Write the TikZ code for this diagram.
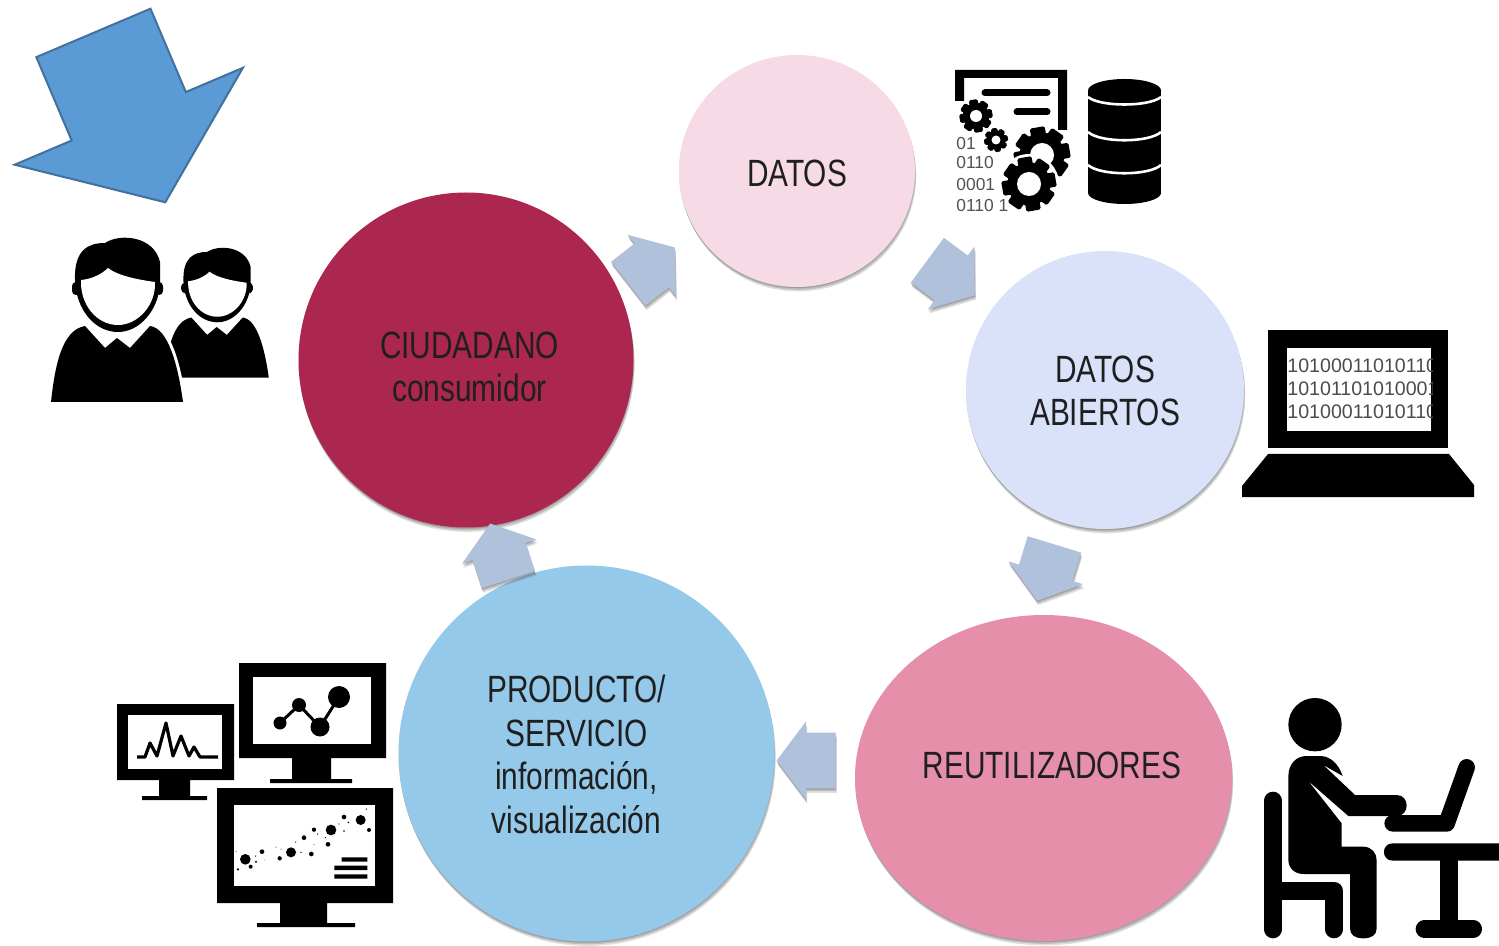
\documentclass[tikz,border=0pt]{standalone}
\usepackage{fontspec}
\setmainfont[FakeStretch=0.785]{Liberation Sans}
\newfontfamily\plana{Liberation Sans}
\usetikzlibrary{shapes.geometric,shapes.arrows,shadows}
\definecolor{rosaclaro}{HTML}{F6DBE6}
\definecolor{azulclaro}{HTML}{D9E2F8}
\definecolor{rosa}{HTML}{E58FAB}
\definecolor{celeste}{HTML}{95C9EA}
\definecolor{granate}{HTML}{AB274F}
\definecolor{flechagris}{HTML}{B0C1DC}
\definecolor{azul}{HTML}{5B9BD5}
\definecolor{azulborde}{HTML}{41719C}
\tikzset{
  sombra/.style={
    drop shadow={shadow xshift=0pt,shadow yshift=-.6pt,opacity=.16,fill=black},
    drop shadow={shadow xshift=.4pt,shadow yshift=-1.4pt,opacity=.16,fill=black},
    drop shadow={shadow xshift=.6pt,shadow yshift=-2.2pt,opacity=.12,fill=black}},
  circulo/.style={ellipse,sombra,inner sep=0pt,fill=#1},
  texto/.style={align=center,inner sep=0pt,font=\fontsize{19}{21.85}\selectfont,text=black!88},
  flecha/.style={single arrow,anchor=tail,sombra,fill=flechagris,inner sep=0pt,
    text height=27.5pt,text depth=0pt,minimum height=29.5pt,single arrow head extend=5.5pt,
    single arrow tip angle=106,rotate=#1},
  cifra/.style={anchor=west,inner sep=0pt,text=black!68,font=\plana\fontsize{8.7}{9}\selectfont},
  binario/.style={anchor=west,inner sep=0pt,text=black!70,font=\plana\fontsize{9.8}{9.8}\selectfont}
}
\newcommand{\engranaje}[4]{%
  \foreach \a in {0,45,...,315}
    \fill[shift={(#1,#2)},rotate=\a+10,rounded corners=.8pt] ({-.27*#3},0) rectangle ({.27*#3},{#3});
  \fill (#1,#2) circle [radius=.8*#3];
  \fill[white] (#1,#2) circle [radius=#4];
}
\newcommand{\persona}{%
  \fill[preaction={draw=white,line width=3pt}] (51,402) .. controls (55,365) and (62,330) .. (85,326) -- (105,348) -- (117,338) -- (130,348) -- (150,326)
    .. controls (168,328) and (178,365) .. (183,402) -- cycle;
  \fill[rounded corners=2pt] (72,282) rectangle (80,295) (156,282) rectangle (163,295);
  \fill (75,280) .. controls (74,250) and (88,243) .. (105,243) .. controls (120,233) and (154,236) .. (160,262) .. controls (160,270) and (160,275) .. (160,285)
    .. controls (158,310) and (140,332) .. (118,332) .. controls (95,332) and (76,310) .. (75,280) -- cycle;
  \fill[white] (81,280) .. controls (92,279) and (102,274) .. (108,268) .. controls (118,276) and (140,280) .. (155,282)
    .. controls (156,305) and (138,325) .. (118,325) .. controls (97,325) and (80,305) .. (81,280) -- cycle;
}
\begin{document}
\begin{tikzpicture}[x=.5pt,y=-.5pt]
  \useasboundingbox (0,0) rectangle (1499,946);

  \node[circulo=rosaclaro,minimum width=118pt,minimum height=116pt] (datos) at (797,171) {};
  \node[circulo=azulclaro,minimum width=139pt,minimum height=139pt] (abiertos) at (1105,390) {};
  \node[circulo=rosa,minimum width=188.5pt,minimum height=163pt] (reutil) at (1043.5,778) {};
  \node[circulo=celeste,minimum width=188pt,minimum height=188pt] (producto) at (586.5,753.5) {};
  \node[circulo=granate,minimum width=167.5pt,minimum height=167.5pt] (ciudadano) at (466,360) {};

  \node[texto] (txtdatos) at (797,173) {DATOS};
  \node[texto] (txtabiertos) at (1105,391) {DATOS\\ABIERTOS};
  \node[texto] (txtreutil) at (1052,765) {REUTILIZADORES};
  \node[texto] (txtproducto) at (576.5,754.5) {PRODUCTO/\\SERVICIO\\información,\\visualización};
  \node[texto] (txtciudadano) at (469.5,367) {CIUDADANO\\consumidor};

  \node[flecha=38] (flechadatos) at (628,284) {};
  \node[flecha=-36.5] (flechaabiertos) at (927,260) {};
  \node[flecha=-107] (flechareutil) at (1054.5,544) {};
  \node[flecha=180] (flechaproducto) at (836,760.5) {};
  \node[flecha=108] (flechaciudadano) at (508.5,580) {};

  \node[single arrow,anchor=tail,rotate=-67,fill=azul,draw=azulborde,line width=1pt,inner sep=0pt,
    text height=61pt,text depth=0pt,minimum height=92pt,single arrow head extend=31pt,single arrow tip angle=106] (flechagrande) at (93,32) {};

  % personas
  \begin{scope}[shift={(124.2,60)},scale=.79]
    \persona
  \end{scope}
  \persona

  % documento y engranajes
  \fill (955,70) -- (1067,70) -- (1067,130) -- (1058,130) -- (1058,78) -- (964,78) -- (964,101) -- (955,101) -- cycle;
  \draw[line width=3.5pt,line cap=round] (985,93) -- (1047,93) (1017,112) -- (1047,112);
  \engranaje{976}{116}{16.5}{6}
  \engranaje{996}{140}{12}{4.5}
  \engranaje{1042}{155}{28}{12}
  \fill[white] (1029,184) circle [radius=30];
  \engranaje{1029}{184}{27}{12}
  \node[cifra] (cifra1) at (956,144) {01};
  \node[cifra] (cifra2) at (956,163) {0110};
  \node[cifra] (cifra3) at (956,185) {0001};
  \node[cifra] (cifra4) at (956,206) {0110 1};

  % base de datos
  \fill (1088,90) rectangle (1161,193);
  \fill (1124.5,90.5) ellipse [x radius=36.5,y radius=11.5];
  \fill (1124.5,193) ellipse [x radius=36.5,y radius=11];
  \draw[white,line width=1.3pt] (1088,97) .. controls (1100,107) and (1149,107) .. (1161,97)
    (1088,132) .. controls (1100,143) and (1149,143) .. (1161,132)
    (1088,165) .. controls (1100,176) and (1149,176) .. (1161,165);

  % portatil
  \fill (1268,330) rectangle (1448,448);
  \fill (1268,454) -- (1449,454) -- (1474,485) -- (1474,497) -- (1242,497) -- (1242,486) -- cycle;
  \fill[white] (1287,348) rectangle (1431,431);
  \begin{scope}
    \clip (1287,348) rectangle (1432,431);
    \node[binario] (binario1) at (1287,366) {10100011010110};
    \node[binario] (binario2) at (1287,389) {10101101010001};
    \node[binario] (binario3) at (1287,412) {10100011010110};
  \end{scope}

  % pantallas
  \fill (117,704) rectangle (234,780) (159,780) rectangle (190,797) (142,796) rectangle (207,800);
  \fill[white] (128,715) rectangle (222,769);
  \draw[line width=1.6pt,line join=round] (137,757) -- (145,757) -- (150,743) -- (157,756) -- (166,723) -- (173,756) -- (181,736) -- (189,756) -- (194,747) -- (200,757) -- (218,757);

  \fill (239,663) rectangle (386,758) (292,758) rectangle (331,780) (270,779) rectangle (352,783);
  \fill[white] (253,677) rectangle (371,744);
  \draw[line width=1.5pt] (280,723) -- (299,705) -- (320,727) -- (339,697);
  \foreach \x/\y/\r in {280/723/6.5,299/705/7,320/727/9.5,339/697/11}
    \fill (\x,\y) circle [radius=\r];

  \fill (217,788) rectangle (393,903) (280,903) rectangle (327,923) (257,923) rectangle (355,927);
  \fill[white] (234,805) rectangle (375,886);
  \begin{scope}[shift={(100,650)},scale=1/3]
    \foreach \x/\y/\r in {436/628/16,452/650/6,414/658/4,468/635/3.5,486/605/7,467/618/2,494/630/1,408/604/1.5,528/591/1.5,543/597/1.5,539/625/6.5,573/607/15,603/607/2,587/576/2,612/563/7,634/612/7,642/583/1.5,642/539/6.5,653/552/2,676/563/2,684/583/7,693/540/16,717/522/2,732/501/7,745/517/2.5,732/543/2.5,782/510/15,807/540/6,799/477/2}
      \fill (\x,\y) circle [radius=\r];
    \fill (725,622) rectangle (802,635) (703,647) rectangle (802,660) (703,673) rectangle (802,686);
  \end{scope}

  % persona con portatil
  \begin{scope}[shift={(1240,680)},scale=1/3]
    \fill (225,134) circle [radius=80];
    \draw[line width=9pt,line cap=round,line join=round] (99,362) -- (99,748) (99,632) -- (282,632) -- (282,748);
    \fill (145,290) .. controls (145,250) and (170,228) .. (200,228) -- (240,228) .. controls (270,228) and (295,250) .. (308,288) -- (250,255) -- (345,345) -- (470,345)
      .. controls (510,345) and (510,408) .. (470,408) -- (325,408) -- (205,303) -- (305,430) -- (305,500) -- (370,500) .. controls (395,500) and (410,520) .. (410,540)
      -- (410,745) .. controls (410,765) and (395,775) .. (370,775) .. controls (345,775) and (330,765) .. (330,745) -- (330,582) -- (190,582) .. controls (165,582) and (145,565) .. (145,540) -- cycle;
    \draw[line width=8.3pt,line cap=round,line join=round] (458,430) -- (620,430) -- (680,262);
    \fill (777,490) -- (458,490) .. controls (423,490) and (423,542) .. (458,542) -- (777,542) -- cycle;
    \draw[line width=9pt] (628,516) -- (628,747);
    \draw[line width=8.7pt,line cap=round] (553,747) -- (700,747);
  \end{scope}
\end{tikzpicture}
\end{document}
